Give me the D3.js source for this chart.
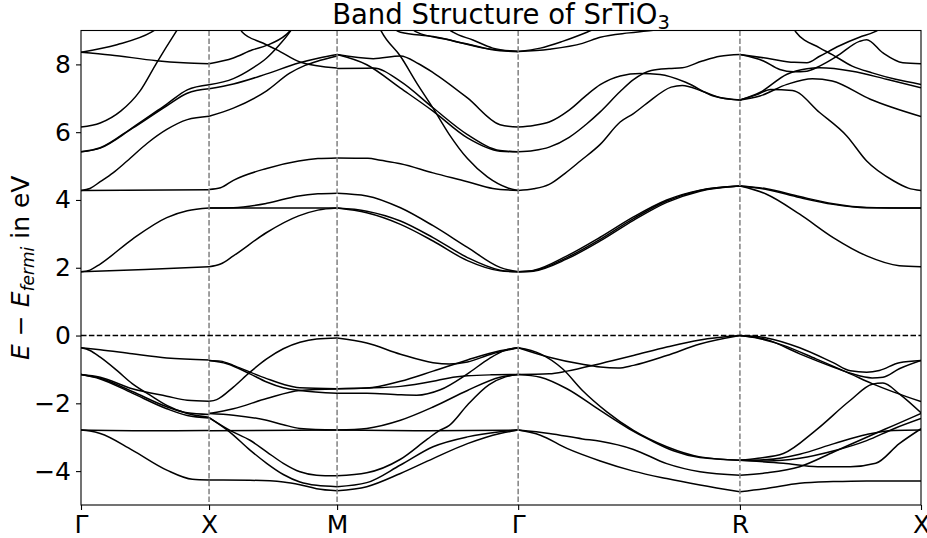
<!DOCTYPE html>
<html><head><meta charset="utf-8">
<script src="https://cdn.jsdelivr.net/npm/d3@7/dist/d3.min.js"></script>
<style>body{margin:0;background:#fff}svg{display:block}text{font-family:"DejaVu Sans",sans-serif}</style>
</head><body>
<svg id="c" width="927" height="538"></svg>
<script>
const kLabels = ["Γ","X","M","Γ","R","X"];
const kTicks = [0, 0.5, 1.0, 1.7071, 2.5731, 3.2802];
const yTicks = [-4,-2,0,2,4,6,8];
const yDomain = [-5, 9];

// each band piece: list of [t (fraction along segment), E (eV)]
const bandsGX = [
 [[0,8.36],[0.28,8.58],[0.55,8.95],[0.65,9.2]],
 [[0,8.36],[0.23,8.28],[0.59,8.11],[0.8,8.05],[1,8.02]],
 [[0,6.15],[0.15,6.27],[0.31,6.62],[0.46,7.21],[0.59,8.04],[0.74,8.95],[0.8,9.3]],
 [[0,5.42],[0.15,5.54],[0.4,6.13],[0.67,6.83],[0.83,7.25],[1,7.40]],
 [[0,5.42],[0.15,5.53],[0.4,6.11],[0.67,6.78],[0.83,7.15],[1,7.28]],
 [[0,4.28],[0.07,4.34],[0.15,4.54],[0.25,4.8],[0.36,5.15],[0.52,5.68],[0.67,6.08],[0.83,6.37],[1,6.47]],
 [[0,4.28],[1,4.30]],
 [[0,1.88],[0.07,1.93],[0.15,2.11],[0.4,2.84],[0.67,3.48],[0.83,3.68],[1,3.76]],
 [[0,1.88],[0.5,1.95],[1,2.03]],
 [[0,-0.36],[0.15,-0.42],[0.4,-0.54],[0.67,-0.66],[1,-0.72]],
 [[0,-0.36],[0.07,-0.44],[0.15,-0.64],[0.28,-1.03],[0.4,-1.42],[0.54,-1.76],[0.67,-2.06],[0.83,-2.30],[1,-2.41]],
 [[0,-1.15],[0.15,-1.23],[0.4,-1.57],[0.67,-1.79],[0.83,-1.91],[1,-1.94]],
 [[0,-1.15],[0.15,-1.26],[0.4,-1.65],[0.67,-2.1],[0.83,-2.28],[1,-2.33]],
 [[0,-1.15],[0.15,-1.28],[0.4,-1.70],[0.67,-2.16],[0.83,-2.36],[1,-2.43]],
 [[0,-2.79],[0.5,-2.81],[1,-2.80]],
 [[0,-2.79],[0.07,-2.82],[0.15,-2.89],[0.4,-3.38],[0.67,-3.97],[0.87,-4.24],[1,-4.26]]
];
const bandsXM = [
 [[0,4.31],[0.09,4.36],[0.19,4.58],[0.45,4.93],[0.7,5.15],[0.85,5.22],[1,5.24]],
 [[0,3.76],[0.19,3.77],[0.45,3.90],[0.7,4.12],[0.85,4.18],[1,4.20]],
 [[0,3.76],[1,3.76]],
 [[0,2.03],[0.09,2.11],[0.19,2.35],[0.45,3.04],[0.7,3.53],[0.85,3.70],[1,3.76]],
 [[0,8.02],[0.19,8.19],[0.34,8.43],[0.45,8.56],[0.6,8.87],[0.66,9.1]],
 [[0.22,9.2],[0.26,8.95],[0.42,8.63],[0.53,8.43],[0.71,8.07],[1,7.89]],
 [[0,7.40],[0.19,7.58],[0.34,7.89],[0.45,8.19],[0.55,8.58],[0.63,8.95],[0.67,9.2]],
 [[0,7.28],[0.19,7.42],[0.45,7.72],[0.7,8.04],[0.86,8.19],[1,8.29]],
 [[0,6.47],[0.19,6.71],[0.45,7.22],[0.63,7.74],[0.75,7.97],[0.87,8.12],[1,8.25]],
 [[0,-0.735],[0.09,-0.755],[0.19,-0.88],[0.32,-1.08],[0.45,-1.27],[0.58,-1.44],[0.71,-1.54],[1,-1.57]],
 [[0,-0.735],[0.14,-0.83],[0.32,-1.13],[0.45,-1.37],[0.58,-1.54],[0.71,-1.62],[1,-1.70]],
 [[0,-1.94],[0.06,-1.89],[0.19,-1.52],[0.32,-1.08],[0.45,-0.69],[0.58,-0.39],[0.71,-0.20],[0.84,-0.10],[1,-0.07]],
 [[0,-2.30],[0.19,-2.16],[0.45,-1.86],[0.71,-1.62],[1,-1.58]],
 [[0,-2.30],[0.19,-2.35],[0.45,-2.50],[0.58,-2.63],[0.71,-2.74],[1,-2.79]],
 [[0,-2.81],[1,-2.79]],
 [[0,-2.42],[0.16,-2.79],[0.32,-3.09],[0.45,-3.43],[0.58,-3.77],[0.71,-4.02],[0.84,-4.12],[1,-4.14]],
 [[0,-2.42],[0.16,-2.84],[0.32,-3.38],[0.45,-3.77],[0.58,-4.10],[0.71,-4.32],[0.84,-4.42],[1,-4.46]],
 [[0,-4.26],[0.32,-4.27],[0.58,-4.32],[0.71,-4.40],[0.84,-4.52],[1,-4.58]]
];
const bandsMG = [
 [[0,5.24],[0.17,5.23],[0.24,5.17],[0.35,5.07],[0.53,4.80],[0.72,4.54],[0.86,4.34],[1,4.28]],
 [[0.22,9.25],[0.247,8.95],[0.35,8.24],[0.44,7.45],[0.53,6.71],[0.62,5.93],[0.72,5.22],[0.83,4.68],[0.94,4.36],[1,4.28]],
 [[0,4.20],[0.164,4.12],[0.35,3.77],[0.53,3.24],[0.72,2.60],[0.9,2.01],[1,1.88]],
 [[0,3.76],[0.164,3.67],[0.35,3.38],[0.53,2.89],[0.72,2.30],[0.9,1.93],[1,1.88]],
 [[0,3.76],[0.164,3.62],[0.35,3.28],[0.53,2.79],[0.72,2.21],[0.9,1.91],[1,1.88]],
 [[0,8.29],[0.2,8.17],[0.35,8.25],[0.45,8.02],[0.53,7.76],[0.72,7.01],[0.9,6.22],[1,6.15]],
 [[0,8.29],[0.164,7.99],[0.35,7.30],[0.53,6.62],[0.72,5.83],[0.9,5.44],[1,5.42]],
 [[0,7.88],[0.2,7.89],[0.35,7.50],[0.53,6.72],[0.72,5.93],[0.9,5.46],[1,5.42]],
 [[0.3,9.1],[0.35,8.95],[0.53,8.82],[0.72,8.60],[0.9,8.40],[1,8.38]],
 [[0.4,9.1],[0.44,8.95],[0.62,8.72],[0.81,8.48],[1,8.38]],
 [[0.6,9.1],[0.64,8.95],[0.75,8.72],[0.86,8.48],[1,8.38]],
 [[0,-0.07],[0.164,-0.22],[0.35,-0.55],[0.53,-0.80],[0.62,-0.84],[0.72,-0.78],[0.85,-0.55],[1,-0.36]],
 [[0,-1.57],[0.164,-1.55],[0.35,-1.35],[0.53,-1.05],[0.72,-0.72],[0.9,-0.45],[1,-0.36]],
 [[0,-1.70],[0.164,-1.70],[0.35,-1.75],[0.44,-1.76],[0.57,-1.60],[0.72,-1.13],[0.84,-0.68],[0.93,-0.43],[1,-0.36]],
 [[0,-1.57],[0.164,-1.55],[0.35,-1.50],[0.53,-1.35],[0.62,-1.25],[0.72,-1.19],[0.85,-1.16],[1,-1.15]],
 [[0,-2.79],[0.164,-2.74],[0.35,-2.50],[0.53,-2.11],[0.72,-1.62],[0.9,-1.23],[1,-1.15]],
 [[0,-2.79],[0.5,-2.81],[1,-2.79]],
 [[0,-4.14],[0.164,-4.05],[0.35,-3.65],[0.5,-3.05],[0.56,-2.82],[0.62,-2.65],[0.72,-2.05],[0.84,-1.45],[0.93,-1.22],[1,-1.15]],
 [[0,-4.46],[0.164,-4.34],[0.35,-3.82],[0.53,-3.28],[0.72,-2.99],[0.9,-2.84],[1,-2.79]],
 [[0,-4.58],[0.164,-4.46],[0.35,-4.07],[0.53,-3.63],[0.72,-3.19],[0.9,-2.89],[1,-2.79]]
];
const bandsGR = [
 [[0,1.88],[0.068,1.91],[0.22,2.3],[0.37,2.84],[0.52,3.45],[0.67,3.97],[0.82,4.28],[1,4.41]],
 [[0,1.88],[0.068,1.92],[0.22,2.35],[0.37,2.90],[0.52,3.50],[0.67,4.00],[0.82,4.29],[1,4.41]],
 [[0,1.88],[0.068,1.90],[0.22,2.26],[0.37,2.79],[0.52,3.40],[0.67,3.93],[0.82,4.26],[1,4.41]],
 [[0,4.28],[0.07,4.33],[0.14,4.46],[0.21,4.78],[0.28,5.15],[0.37,5.64],[0.46,6.30],[0.52,6.55],[0.58,6.85],[0.69,7.33],[0.74,7.38],[0.83,7.21],[0.91,7.02],[1,6.95]],
 [[0,5.42],[0.07,5.46],[0.14,5.56],[0.23,5.85],[0.31,6.25],[0.37,6.6],[0.46,7.2],[0.52,7.55],[0.6,7.82],[0.68,7.88],[0.74,7.90],[0.83,8.1],[0.91,8.24],[1,8.29]],
 [[0,6.15],[0.07,6.2],[0.14,6.3],[0.23,6.65],[0.31,7.1],[0.37,7.4],[0.46,7.66],[0.55,7.73],[0.64,7.70],[0.76,7.46],[0.88,7.07],[1,6.95]],
 [[0,8.38],[0.14,8.45],[0.29,8.62],[0.37,8.80],[0.5,8.93],[0.6,9.0],[0.7,9.1]],
 [[0,8.38],[0.1,8.48],[0.2,8.68],[0.31,8.95],[0.4,9.2]],
 [[0,-0.36],[0.1,-0.54],[0.2,-0.98],[0.29,-1.62],[0.4,-2.25],[0.52,-2.80],[0.67,-3.28],[0.82,-3.58],[1,-3.68]],
 [[0,-1.15],[0.1,-1.23],[0.22,-1.57],[0.37,-2.21],[0.5,-2.75],[0.6,-3.1],[0.7,-3.4],[0.82,-3.6],[1,-3.68]],
 [[0,-2.79],[0.14,-2.89],[0.29,-3.05],[0.37,-3.12],[0.52,-3.36],[0.67,-3.78],[0.82,-4.02],[1,-4.12]],
 [[0,-2.79],[0.1,-2.94],[0.22,-3.33],[0.37,-3.70],[0.52,-4.0],[0.67,-4.22],[0.82,-4.41],[1,-4.61]],
 [[0,-1.15],[0.14,-1.13],[0.22,-1.05],[0.37,-0.83],[0.52,-0.59],[0.67,-0.34],[0.82,-0.13],[1,0]],
 [[0,-0.36],[0.14,-0.64],[0.29,-0.85],[0.37,-0.93],[0.45,-0.96],[0.52,-0.88],[0.67,-0.59],[0.82,-0.25],[1,0]]
];
const bandsRX = [
 [[0,4.41],[0.147,4.31],[0.33,4.07],[0.515,3.87],[0.7,3.77],[1,3.76]],
 [[0,4.41],[0.147,4.33],[0.33,4.10],[0.515,3.89],[0.7,3.78],[1,3.76]],
 [[0,4.41],[0.147,4.17],[0.33,3.58],[0.515,2.89],[0.7,2.35],[0.88,2.06],[1,2.03]],
 [[0,6.95],[0.09,7.1],[0.17,7.26],[0.29,7.23],[0.44,6.58],[0.59,5.89],[0.7,5.15],[0.85,4.56],[0.93,4.35],[1,4.28]],
 [[0,8.29],[0.15,8.18],[0.3,8.06],[0.37,8.05],[0.44,8.24],[0.55,8.55],[0.66,8.8],[0.74,8.95],[0.82,9.2]],
 [[0,8.29],[0.13,8.10],[0.22,7.85],[0.295,7.78],[0.37,7.80],[0.44,7.95],[0.535,8.24],[0.66,8.68],[0.7,8.73],[0.79,8.34],[0.9,8.05],[1,8.02]],
 [[0.28,9.2],[0.31,8.95],[0.44,8.49],[0.51,8.29],[0.62,7.95],[0.73,7.75],[0.86,7.56],[1,7.41]],
 [[0,6.95],[0.11,7.17],[0.26,7.71],[0.37,7.87],[0.44,7.90],[0.62,7.80],[0.81,7.56],[1,7.31]],
 [[0,6.95],[0.11,7.07],[0.26,7.41],[0.4,7.58],[0.51,7.51],[0.72,6.97],[1,6.46]],
 [[0,0],[0.147,-0.07],[0.33,-0.36],[0.515,-0.80],[0.61,-1.04],[0.7,-1.08],[0.77,-1.03],[0.88,-0.80],[1,-0.735]],
 [[0,0],[0.147,-0.12],[0.33,-0.54],[0.515,-0.93],[0.62,-1.13],[0.73,-1.25],[0.79,-1.23],[0.88,-0.98],[1,-0.735]],
 [[0,0],[0.1,-0.08],[0.24,-0.29],[0.42,-0.69],[0.61,-1.13],[0.73,-1.42],[0.85,-1.67],[1,-1.95]],
 [[0,-3.68],[0.1,-3.62],[0.24,-3.48],[0.42,-2.79],[0.61,-1.91],[0.73,-1.44],[0.79,-1.40],[0.88,-1.72],[1,-2.28]],
 [[0,-3.68],[0.15,-3.66],[0.33,-3.50],[0.52,-3.19],[0.7,-2.92],[0.85,-2.80],[1,-2.79]],
 [[0,-3.68],[0.15,-3.70],[0.33,-3.62],[0.52,-3.40],[0.7,-3.10],[0.85,-2.75],[1,-2.45]],
 [[0,-4.12],[0.15,-4.05],[0.33,-3.87],[0.52,-3.43],[0.7,-3.00],[0.85,-2.65],[1,-2.30]],
 [[0,-3.68],[0.24,-3.77],[0.43,-3.87],[0.61,-3.87],[0.75,-3.77],[0.88,-3.19],[1,-2.75]],
 [[0,-4.61],[0.147,-4.51],[0.33,-4.36],[0.515,-4.31],[0.7,-4.29],[1,-4.29]]
];
const segments = [bandsGX, bandsXM, bandsMG, bandsGR, bandsRX];

const svg = d3.select("#c");
const L = 81, R = 921, T = 30.5, B = 505;
const x = d3.scaleLinear().domain([kTicks[0], kTicks[kTicks.length-1]]).range([L, R]);
const y = d3.scaleLinear().domain(yDomain).range([B, T]);

svg.append("defs").append("clipPath").attr("id","clip")
  .append("rect").attr("x",L).attr("y",T).attr("width",R-L).attr("height",B-T);

const line = d3.line().x(d=>x(d[0])).y(d=>y(d[1])).curve(d3.curveMonotoneX);
const g = svg.append("g").attr("clip-path","url(#clip)");
segments.forEach((seg,i)=>{
  const k0 = kTicks[i], k1 = kTicks[i+1];
  seg.forEach(b=>{
    const pts = b.map(p=>[k0 + p[0]*(k1-k0), p[1]]);
    g.append("path").attr("d", line(pts)).attr("fill","none")
      .attr("stroke","#000").attr("stroke-width",1.5);
  });
});

// vertical dashed lines at interior high symmetry points
kTicks.slice(1,-1).forEach(k=>{
  svg.append("line").attr("x1",x(k)).attr("x2",x(k)).attr("y1",T).attr("y2",B)
    .attr("stroke","#808080").attr("stroke-width",1.5).attr("stroke-dasharray","5.5,2.4");
});
// Fermi level
svg.append("line").attr("x1",L).attr("x2",R).attr("y1",y(0)).attr("y2",y(0))
  .attr("stroke","#000").attr("stroke-width",1.5).attr("stroke-dasharray","5.5,2.4");

// axes
const yAxis = d3.axisLeft(y).tickValues(yTicks).tickSize(5).tickPadding(5).tickFormat(d=>d<0?"\u2212"+Math.abs(d):d);
const ya = svg.append("g").attr("transform",`translate(${L},0)`).call(yAxis);
const xAxis = d3.axisBottom(x).tickValues(kTicks).tickSize(5).tickPadding(5).tickFormat((d,i)=>kLabels[i]);
const xa = svg.append("g").attr("transform",`translate(0,${B})`).call(xAxis);
[ya,xa].forEach(a=>{
  a.select(".domain").remove();
  a.selectAll("line").attr("stroke","#000").attr("stroke-width",1.1);
  a.selectAll("text").attr("font-size",25).attr("fill","#000").attr("font-family","DejaVu Sans");
});
// frame
svg.append("rect").attr("x",L).attr("y",T).attr("width",R-L).attr("height",B-T)
  .attr("fill","none").attr("stroke","#000").attr("stroke-width",1.1);

// title
const t = svg.append("text").attr("x",(L+R)/2).attr("y",24).attr("text-anchor","middle")
  .attr("font-size",27.5).attr("fill","#000");
t.append("tspan").text("Band Structure of SrTiO");
t.append("tspan").text("3").attr("font-size",19.5).attr("dy",4.5);

// y label
const yl = svg.append("text").attr("transform",`translate(29,${(T+B)/2}) rotate(-90)`)
  .attr("text-anchor","middle").attr("font-size",25).attr("fill","#000");
yl.append("tspan").text("E").attr("font-style","italic");
yl.append("tspan").text(" \u2212 ");
yl.append("tspan").text("E").attr("font-style","italic");
yl.append("tspan").text("fermi").attr("font-style","italic").attr("font-size",17).attr("dy",5);
yl.append("tspan").text(" in eV").attr("dy",-5);
</script>
</body></html>
